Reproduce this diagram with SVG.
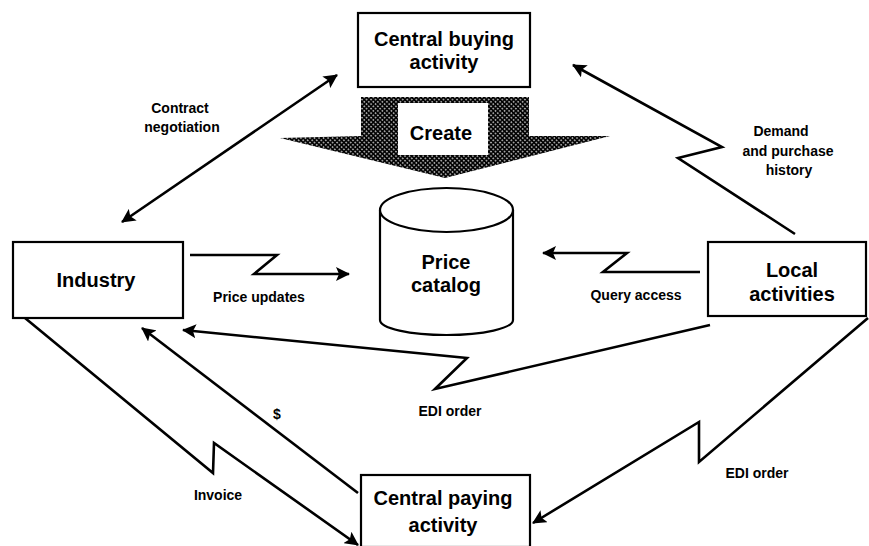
<svg xmlns="http://www.w3.org/2000/svg" width="869" height="546" viewBox="0 0 869 546">
  <style>
    .box { fill: #fff; stroke: #000; stroke-width: 2.2; }
    .node { font-family: "Liberation Sans", Arial, sans-serif; font-weight: bold; font-size: 20px; text-anchor: middle; fill: #000; }
    .lbl { font-family: "Liberation Sans", Arial, sans-serif; font-weight: bold; font-size: 14px; text-anchor: middle; fill: #000; }
    .flow { fill: none; stroke: #000; stroke-width: 2.6; stroke-linejoin: miter; }
  </style>
  <defs>
    <marker id="head" viewBox="0 0 14 14" refX="13" refY="7" markerWidth="14" markerHeight="14" markerUnits="userSpaceOnUse" orient="auto-start-reverse">
      <path d="M0,0 L14,7 L0,14 L3,7 z" fill="#000"/>
    </marker>
    <pattern id="stipple" width="3.2" height="3.2" patternUnits="userSpaceOnUse" patternTransform="rotate(45)">
      <rect width="3.2" height="3.2" fill="#fff"/>
      <circle cx="1.6" cy="1.6" r="1.62" fill="#000"/>
    </pattern>
  </defs>

  <!-- wide "create" arrow from buying activity down to the catalog -->
  <g id="create">
    <polygon points="361,97 529,97 529,136 610,136 445,178 280,138 361,136" fill="url(#stipple)"/>
    <rect x="398" y="103" width="90" height="52" fill="#fff"/>
    <text class="node" x="441" y="140">Create</text>
  </g>

  <g id="central-buying">
    <rect class="box" x="358" y="13" width="172" height="74"/>
    <text class="node" x="444" y="46">Central buying</text>
    <text class="node" x="444" y="69">activity</text>
  </g>

  <g id="price-catalog">
    <path d="M380,210 L380,320 A66.5,15 0 0 0 513,320 L513,210" fill="#fff" stroke="#000" stroke-width="2.2"/>
    <ellipse cx="446.5" cy="210" rx="66.5" ry="22" fill="#fff" stroke="#000" stroke-width="2.2"/>
    <text class="node" x="446" y="269">Price</text>
    <text class="node" x="446" y="292">catalog</text>
  </g>

  <g id="industry">
    <rect class="box" x="13" y="242" width="170" height="76"/>
    <text class="node" x="96" y="287" font-weight="normal">Industry</text>
  </g>

  <g id="local-activities">
    <rect class="box" x="708" y="242" width="158" height="74"/>
    <text class="node" x="792" y="277">Local</text>
    <text class="node" x="792" y="301">activities</text>
  </g>

  <g id="central-paying">
    <rect class="box" x="361" y="475" width="169" height="72"/>
    <text class="node" x="443" y="505">Central paying</text>
    <text class="node" x="443" y="532">activity</text>
  </g>

  <g id="connectors">
    <line class="flow" x1="122" y1="222" x2="337" y2="75" marker-start="url(#head)" marker-end="url(#head)"/>
    <polyline class="flow" points="190,255 277,255 254,274 349,274" marker-end="url(#head)"/>
    <polyline class="flow" points="700,272 603,272 627,253 543,253" marker-end="url(#head)"/>
    <polyline class="flow" points="795,234 678,158 722,147 573,65" marker-end="url(#head)"/>
    <polyline class="flow" points="710,325 435,389 467,358 183,330" marker-end="url(#head)"/>
    <polyline class="flow" points="868,318 699,462 699,422 533,523" marker-end="url(#head)"/>
    <line class="flow" x1="358" y1="493" x2="142" y2="328" marker-end="url(#head)"/>
    <polyline class="flow" points="25,318 213,473 214,443 358,545" marker-end="url(#head)"/>
  </g>

  <g id="labels">
    <text class="lbl" x="180" y="113">Contract</text>
    <text class="lbl" x="182" y="132">negotiation</text>
    <text class="lbl" x="259" y="302">Price updates</text>
    <text class="lbl" x="636" y="300">Query access</text>
    <text class="lbl" x="781" y="136">Demand</text>
    <text class="lbl" x="788" y="156">and purchase</text>
    <text class="lbl" x="789" y="175">history</text>
    <text class="lbl" x="450" y="416">EDI order</text>
    <text class="lbl" x="757" y="478">EDI order</text>
    <text class="lbl" x="218" y="500">Invoice</text>
    <text class="lbl" x="277" y="419">$</text>
  </g>
</svg>
